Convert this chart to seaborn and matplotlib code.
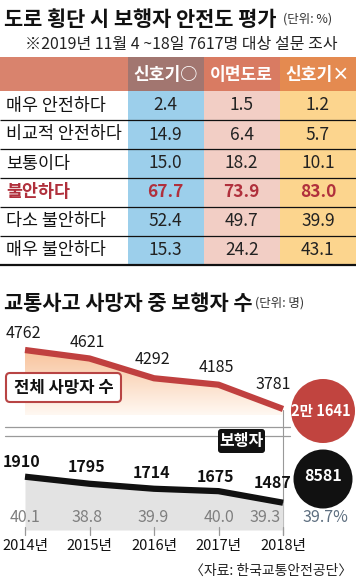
import numpy as np
import pandas as pd
import matplotlib
matplotlib.use("Agg")
import matplotlib.pyplot as plt
import seaborn as sns
from matplotlib.colors import ListedColormap, LinearSegmentedColormap
from matplotlib.patches import Rectangle, Circle, FancyBboxPatch
from matplotlib.transforms import blended_transform_factory as blend

# ---------------- data ----------------
table_title = "도로 횡단 시 보행자 안전도 평가"
table_unit = "(단위: %)"
table_note = "※2019년 11월 4 ~18일 7617명 대상 설문 조사"
col_labels = ["신호기○", "이면도로", "신호기×"]
row_labels = ["매우 안전하다", "비교적 안전하다", "보통이다", "불안하다", "다소 불안하다", "매우 불안하다"]
signal_yes = [2.4, 14.9, 15.0, 67.7, 52.4, 15.3]
back_road = [1.5, 6.4, 18.2, 73.9, 49.7, 24.2]
signal_no = [1.2, 5.7, 10.1, 83.0, 39.9, 43.1]

chart_title = "교통사고 사망자 중 보행자 수"
chart_unit = "(단위: 명)"
years = [2014, 2015, 2016, 2017, 2018]
year_labels = ["2014년", "2015년", "2016년", "2017년", "2018년"]
total_deaths = [4762, 4621, 4292, 4185, 3781]
ped_deaths = [1910, 1795, 1714, 1675, 1487]
ped_share = [40.1, 38.8, 39.9, 40.0, 39.3]
total_sum_label = "2만 1641"
ped_sum_label = "8581"
share_sum_label = "39.7%"
source = "〈자료: 한국교통안전공단〉"

# ---------------- style ----------------
sns.set_theme(style="white")
plt.rcParams['font.family'] = ['Noto Sans CJK KR', 'DejaVu Sans']

W, H = 356, 579
fig = plt.figure(figsize=(W / 100, H / 100), dpi=100)
fig.patch.set_facecolor("white")

def px_axes(l, t, w, h, z):
    ax = fig.add_axes([l / W, 1 - (t + h) / H, w / W, h / H], zorder=z)
    return ax

bg = px_axes(0, 0, W, H, 0)
bg.set_xlim(0, W); bg.set_ylim(H, 0); bg.axis("off")
fg = px_axes(0, 0, W, H, 10)
fg.set_xlim(0, W); fg.set_ylim(H, 0); fg.axis("off")
fg.patch.set_alpha(0)

RED_TXT = "#B0303C"

# ---------------- titles ----------------
bg.text(4, 19, table_title, fontsize=15, fontweight="bold", color="#111", va="center", ha="left")
bg.text(283, 19, table_unit, fontsize=9, color="#333", va="center", ha="left")
bg.text(181, 45, table_note, fontsize=11.5, color="#222", va="center", ha="center")

# ---------------- table (heatmap) ----------------
TAB_L, TAB_T, TAB_W, TAB_H = 127.5, 91, 228.5, 174
hax = px_axes(TAB_L, TAB_T, TAB_W, TAB_H, 2)
vals = np.column_stack([signal_yes, back_road, signal_no])
col_idx = np.tile(np.arange(3), (len(row_labels), 1))
cell_cmap = ListedColormap(["#9CCFEB", "#F2CEC5", "#FCD58E"])
sns.heatmap(col_idx, cmap=cell_cmap, vmin=-0.5, vmax=2.5, annot=vals, fmt=".1f", cbar=False,
            ax=hax, annot_kws=dict(fontsize=12.5, color="#222"), linewidths=0)
hax.set_xticks([]); hax.set_yticks([])
hax.set_xlabel(""); hax.set_ylabel("")
n_cols = 3
for k, t in enumerate(hax.texts):
    r = k // n_cols
    if row_labels[r] == "불안하다":
        t.set_color(RED_TXT)
        t.set_fontweight("bold")

# header cells via heatmap x scale
hdr_tr = blend(hax.transData, bg.transData)
bg.add_patch(Rectangle((0, 57), TAB_L, 34, color="#D9836D", lw=0))
hdr_colors = ["#A27670", "#D97B62", "#E48A50"]
for i, (lab, c) in enumerate(zip(col_labels, hdr_colors)):
    fg.add_patch(Rectangle((i, 57), 1, 34, transform=hdr_tr, color=c, lw=0))
    fg.text(i + 0.5, 74.5, lab, transform=hdr_tr, fontsize=12.3, fontweight="bold",
            color="white", ha="center", va="center")

# row labels and row lines
row_tr = blend(bg.transData, hax.transData)
for r, lab in enumerate(row_labels):
    is_red = lab == "불안하다"
    fg.text(6, r + 0.5, lab, transform=row_tr, fontsize=12.5, ha="left", va="center",
            color=RED_TXT if is_red else "#111", fontweight="bold" if is_red else "normal")
for r in range(1, len(row_labels) + 1):
    fg.plot([0, W], [r, r], transform=row_tr, color="#111",
            lw=1.6 if r == len(row_labels) else 0.9, solid_capstyle="butt")

# ---------------- line chart ----------------
bg.text(4, 303, chart_title, fontsize=15, fontweight="bold", color="#111", va="center", ha="left")
bg.text(255, 303, chart_unit, fontsize=9, color="#333", va="center", ha="left")

LINE_RED = "#C0403F"
# upper axes (total deaths)
ax1 = px_axes(25, 330, 258, 85, 3)
ax1.patch.set_alpha(0)
ax1.set_xlim(2014, 2018); ax1.set_ylim(3681, 5095)
ax1.axis("off")
poly = ax1.fill_between(years, total_deaths, 3681, color="none", lw=0)
grad = LinearSegmentedColormap.from_list("g", ["#FFF8F2", "#F8C39C"])
img = ax1.imshow(np.linspace(0, 1, 100).reshape(-1, 1), cmap=grad, aspect="auto",
                 extent=[2014, 2018, 3681, 4762], origin="lower", zorder=1)
img.set_clip_path(poly.get_paths()[0], transform=ax1.transData)
ax1.set_xlim(2014, 2018); ax1.set_ylim(3681, 5095)
sns.lineplot(x=years, y=total_deaths, color=LINE_RED, lw=4.5, ax=ax1, zorder=3)
for ln in ax1.lines:
    ln.set_clip_on(False); ln.set_solid_capstyle("butt")
offs1 = [(-2, 17), (-2, 16), (-2, 19), (-2, 17), (-10, 24)]
for x, v, (dx, dy) in zip(years, total_deaths, offs1):
    ax1.annotate(f"{v}", (x, v), xytext=(dx, dy), textcoords="offset pixels",
                 ha="center", va="center", fontsize=11.5, color="#1a1a1a")

# lower axes (pedestrian deaths)
ax2 = px_axes(25, 455, 258, 75, 3)
ax2.patch.set_alpha(0)
ax2.set_xlim(2014, 2018); ax2.set_ylim(1043, 2263)
ax2.axis("off")
ax2.fill_between(years, ped_deaths, 1043, color="#E3E3E3", lw=0, zorder=1)
sns.lineplot(x=years, y=ped_deaths, color="#111111", lw=4.5, ax=ax2, zorder=3)
for ln in ax2.lines:
    ln.set_clip_on(False); ln.set_solid_capstyle("butt")
offs2 = [(-3, 15), (-3, 17), (-2, 16), (-3, 14), (-10, 20)]
for x, v, (dx, dy) in zip(years, ped_deaths, offs2):
    ax2.annotate(f"{v}", (x, v), xytext=(dx, dy), textcoords="offset pixels",
                 ha="center", va="center", fontsize=11.5, fontweight="bold", color="#111")

yr_tr = blend(ax2.transData, bg.transData)
share_dx = [0, -2, -1, 0, -18]
for x, s, dx in zip(years, ped_share, share_dx):
    fg.annotate(f"{s:.1f}", (x, 518), xycoords=yr_tr, xytext=(dx, 0), textcoords="offset pixels",
                ha="center", va="center", fontsize=11.5, color="#7F7F7F", annotation_clip=False)
for x, lab in zip(years, year_labels):
    bg.text(x, 546, lab, transform=yr_tr, ha="center", va="center", fontsize=10.5, color="#111")
    fg.plot([x, x], [527, 535], transform=yr_tr, color="#999", lw=0.9)
bg.plot([years[-1], years[-1]], [410, 535], transform=yr_tr, color="#999", lw=0.8)

# separator lines
bg.plot([5, 290], [427, 427], color="#9A9A9A", lw=0.9)
bg.plot([5, 290], [436, 436], color="#9A9A9A", lw=0.9)

# labels boxes
fg.add_patch(FancyBboxPatch((6, 373), 115, 29, boxstyle="round,pad=0,rounding_size=4",
                            fc="white", ec="#B84444", lw=1.5))
fg.text(63.5, 388, "전체 사망자 수", fontsize=12, fontweight="bold", color="#111", ha="center", va="center")
fg.add_patch(FancyBboxPatch((218, 429), 47, 24, boxstyle="round,pad=0,rounding_size=3",
                            fc="#111", ec="none"))
fg.text(241.5, 441, "보행자", fontsize=11.5, fontweight="bold", color="white", ha="center", va="center")

# totals circles
fg.add_patch(Circle((323, 411), 32, color="#C1443F", lw=0))
fg.text(321, 411, total_sum_label, fontsize=10.5, fontweight="bold", color="white", ha="center", va="center")
fg.add_patch(Circle((323, 479), 29.5, color="#111", lw=0))
fg.text(323, 476, ped_sum_label, fontsize=11.5, fontweight="bold", color="white", ha="center", va="center")
fg.text(325, 518, share_sum_label, fontsize=11.5, color="#5E6F80", ha="center", va="center")

# source
bg.text(352, 571, source, fontsize=10, color="#222", ha="right", va="center")

fig.savefig("out.png", dpi=100, facecolor="white")
